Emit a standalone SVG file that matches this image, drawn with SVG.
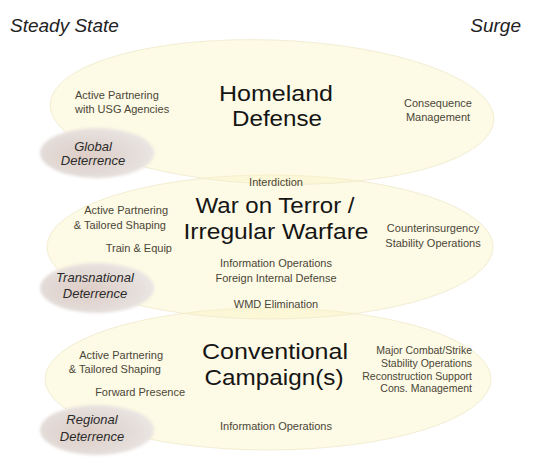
<svg xmlns="http://www.w3.org/2000/svg" width="533" height="466" viewBox="0 0 533 466">
<defs>
<radialGradient id="pill" cx="0.4" cy="0.55" r="0.65">
<stop offset="0" stop-color="#dfcdc6"/>
<stop offset="0.55" stop-color="#e2dad6"/>
<stop offset="1" stop-color="#ebe8e6"/>
</radialGradient>
<filter id="blur" x="-10%" y="-20%" width="120%" height="140%"><feGaussianBlur stdDeviation="1.5"/></filter>
</defs>
<style>
.big{fill:#faf3c0;fill-opacity:0.42;stroke:#efe9cc;stroke-width:0.8}
.pill{fill:url(#pill);filter:url(#blur)}
text{font-family:"Liberation Sans",Arial,sans-serif}
.hdr{font-size:19px;font-style:italic;fill:#222}
.title{font-size:22px;fill:#151515}
.sm{font-size:11px;fill:#4a4638}
.xs{font-size:10.5px;fill:#4a4638}
.det{font-size:13px;font-style:italic;fill:#2a2a2a}
.c{text-anchor:middle}
.r{text-anchor:end}
</style>
<rect width="533" height="466" fill="#ffffff"/>
<text class="hdr" x="10" y="32">Steady State</text>
<text class="hdr r" x="521" y="32">Surge</text>

<g id="conventional">
<ellipse class="big" cx="268" cy="379" rx="223" ry="71"/>
</g>
<g id="war-on-terror">
<ellipse class="big" cx="270" cy="247" rx="223" ry="72"/>
</g>
<g id="homeland">
<ellipse class="big" cx="272" cy="112" rx="222" ry="72" transform="rotate(2 272 112)"/>
</g>

<g id="global-deterrence">
<ellipse class="pill" cx="97" cy="153" rx="57" ry="25"/>
<text class="det c" x="93" y="151">Global</text>
<text class="det c" x="93" y="165">Deterrence</text>
</g>
<g id="transnational-deterrence">
<ellipse class="pill" cx="97" cy="288" rx="57" ry="25"/>
<text class="det c" x="95" y="282">Transnational</text>
<text class="det c" x="95" y="298">Deterrence</text>
</g>
<g id="regional-deterrence">
<ellipse class="pill" cx="97" cy="430" rx="57" ry="25"/>
<text class="det c" x="92" y="424">Regional</text>
<text class="det c" x="92" y="441">Deterrence</text>
</g>

<g id="homeland-text">
<text class="title c" x="276" y="101" textLength="114" lengthAdjust="spacingAndGlyphs">Homeland</text>
<text class="title c" x="277" y="126" textLength="90" lengthAdjust="spacingAndGlyphs">Defense</text>
<text class="sm" x="75" y="99">Active Partnering</text>
<text class="sm" x="75" y="113">with USG Agencies</text>
<text class="sm c" x="438" y="107">Consequence</text>
<text class="sm c" x="438" y="121">Management</text>
<text class="sm c" x="276" y="186">Interdiction</text>
</g>

<g id="wot-text">
<text class="title c" x="275" y="213" textLength="159" lengthAdjust="spacingAndGlyphs">War on Terror /</text>
<text class="title c" x="276" y="239" textLength="185" lengthAdjust="spacingAndGlyphs">Irregular Warfare</text>
<text class="sm r" x="168" y="214">Active Partnering</text>
<text class="sm r" x="166" y="229">&amp; Tailored Shaping</text>
<text class="sm r" x="172" y="252">Train &amp; Equip</text>
<text class="sm c" x="433" y="232">Counterinsurgency</text>
<text class="sm c" x="433" y="247">Stability Operations</text>
<text class="sm c" x="276" y="267">Information Operations</text>
<text class="sm c" x="276" y="282">Foreign Internal Defense</text>
<text class="sm c" x="276" y="308">WMD Elimination</text>
</g>

<g id="conventional-text">
<text class="title c" x="275" y="359" textLength="146" lengthAdjust="spacingAndGlyphs">Conventional</text>
<text class="title c" x="274" y="385" textLength="139" lengthAdjust="spacingAndGlyphs">Campaign(s)</text>
<text class="sm r" x="163" y="359">Active Partnering</text>
<text class="sm r" x="161" y="373">&amp; Tailored Shaping</text>
<text class="sm r" x="185" y="396">Forward Presence</text>
<text class="xs r" x="472" y="354">Major Combat/Strike</text>
<text class="xs r" x="472" y="367">Stability Operations</text>
<text class="xs r" x="472" y="380">Reconstruction Support</text>
<text class="xs r" x="472" y="392">Cons. Management</text>
<text class="sm c" x="276" y="430">Information Operations</text>
</g>
</svg>
